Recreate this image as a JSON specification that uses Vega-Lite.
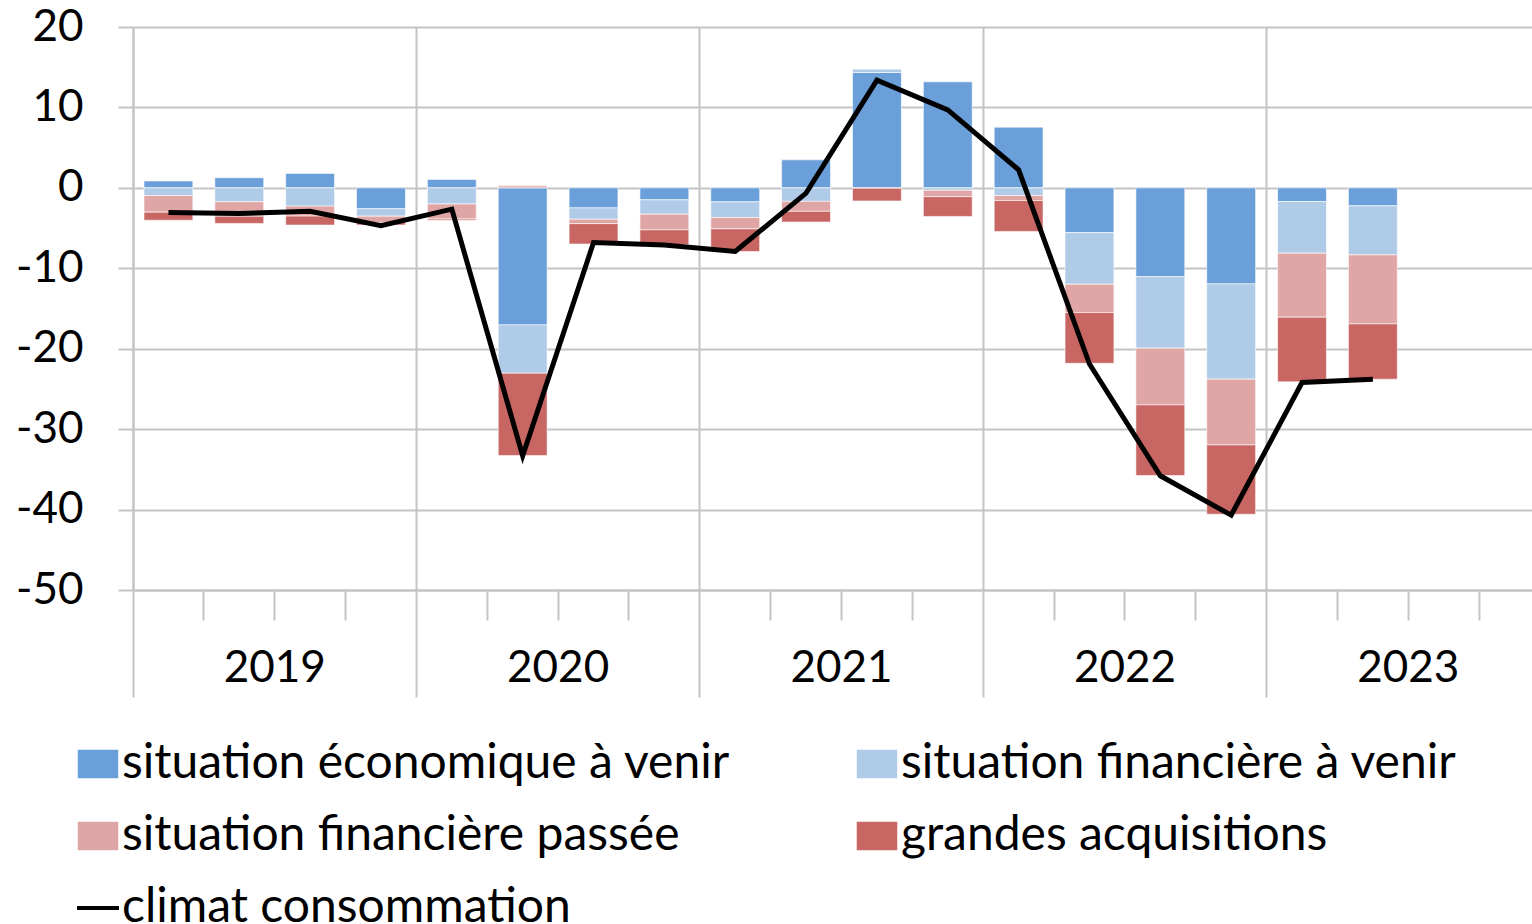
{
  "$schema": "https://vega.github.io/schema/vega-lite/v6.json",
  "autosize": {"type": "none"},
  "padding": {"left": 133, "top": 27, "right": 0, "bottom": 334},
  "width": 1399,
  "height": 563,
  "config": {"font": "Lato", "view": {"stroke": null}},
  "datasets": {
    "bars": [
      {"trimestre": "2019T1", "serie": "situation économique à venir", "valeur": 0.85},
      {"trimestre": "2019T1", "serie": "situation financière à venir", "valeur": -0.95},
      {"trimestre": "2019T1", "serie": "situation financière passée", "valeur": -2.07},
      {"trimestre": "2019T1", "serie": "grandes acquisitions", "valeur": -1.0},
      {"trimestre": "2019T2", "serie": "situation économique à venir", "valeur": 1.26},
      {"trimestre": "2019T2", "serie": "situation financière à venir", "valeur": -1.72},
      {"trimestre": "2019T2", "serie": "situation financière passée", "valeur": -1.8},
      {"trimestre": "2019T2", "serie": "grandes acquisitions", "valeur": -0.9},
      {"trimestre": "2019T3", "serie": "situation économique à venir", "valeur": 1.8},
      {"trimestre": "2019T3", "serie": "situation financière à venir", "valeur": -2.27},
      {"trimestre": "2019T3", "serie": "situation financière passée", "valeur": -1.24},
      {"trimestre": "2019T3", "serie": "grandes acquisitions", "valeur": -1.12},
      {"trimestre": "2019T4", "serie": "situation économique à venir", "valeur": -2.6},
      {"trimestre": "2019T4", "serie": "situation financière à venir", "valeur": -0.92},
      {"trimestre": "2019T4", "serie": "situation financière passée", "valeur": -0.8},
      {"trimestre": "2019T4", "serie": "grandes acquisitions", "valeur": -0.3},
      {"trimestre": "2020T1", "serie": "situation économique à venir", "valeur": 1.05},
      {"trimestre": "2020T1", "serie": "situation financière à venir", "valeur": -2.0},
      {"trimestre": "2020T1", "serie": "situation financière passée", "valeur": -1.87},
      {"trimestre": "2020T1", "serie": "grandes acquisitions", "valeur": -0.15},
      {"trimestre": "2020T2", "serie": "situation économique à venir", "valeur": -17.04},
      {"trimestre": "2020T2", "serie": "situation financière à venir", "valeur": -6.0},
      {"trimestre": "2020T2", "serie": "situation financière passée", "valeur": 0.25},
      {"trimestre": "2020T2", "serie": "grandes acquisitions", "valeur": -10.25},
      {"trimestre": "2020T3", "serie": "situation économique à venir", "valeur": -2.49},
      {"trimestre": "2020T3", "serie": "situation financière à venir", "valeur": -1.41},
      {"trimestre": "2020T3", "serie": "situation financière passée", "valeur": -0.55},
      {"trimestre": "2020T3", "serie": "grandes acquisitions", "valeur": -2.53},
      {"trimestre": "2020T4", "serie": "situation économique à venir", "valeur": -1.49},
      {"trimestre": "2020T4", "serie": "situation financière à venir", "valeur": -1.78},
      {"trimestre": "2020T4", "serie": "situation financière passée", "valeur": -1.95},
      {"trimestre": "2020T4", "serie": "grandes acquisitions", "valeur": -1.83},
      {"trimestre": "2021T1", "serie": "situation économique à venir", "valeur": -1.74},
      {"trimestre": "2021T1", "serie": "situation financière à venir", "valeur": -1.95},
      {"trimestre": "2021T1", "serie": "situation financière passée", "valeur": -1.41},
      {"trimestre": "2021T1", "serie": "grandes acquisitions", "valeur": -2.82},
      {"trimestre": "2021T2", "serie": "situation économique à venir", "valeur": 3.48},
      {"trimestre": "2021T2", "serie": "situation financière à venir", "valeur": -1.68},
      {"trimestre": "2021T2", "serie": "situation financière passée", "valeur": -1.24},
      {"trimestre": "2021T2", "serie": "grandes acquisitions", "valeur": -1.33},
      {"trimestre": "2021T3", "serie": "situation économique à venir", "valeur": 14.34},
      {"trimestre": "2021T3", "serie": "situation financière à venir", "valeur": 0.42},
      {"trimestre": "2021T3", "serie": "situation financière passée", "valeur": -0.05},
      {"trimestre": "2021T3", "serie": "grandes acquisitions", "valeur": -1.58},
      {"trimestre": "2021T4", "serie": "situation économique à venir", "valeur": 13.18},
      {"trimestre": "2021T4", "serie": "situation financière à venir", "valeur": -0.3},
      {"trimestre": "2021T4", "serie": "situation financière passée", "valeur": -0.8},
      {"trimestre": "2021T4", "serie": "grandes acquisitions", "valeur": -2.45},
      {"trimestre": "2022T1", "serie": "situation économique à venir", "valeur": 7.55},
      {"trimestre": "2022T1", "serie": "situation financière à venir", "valeur": -0.95},
      {"trimestre": "2022T1", "serie": "situation financière passée", "valeur": -0.62},
      {"trimestre": "2022T1", "serie": "grandes acquisitions", "valeur": -3.85},
      {"trimestre": "2022T2", "serie": "situation économique à venir", "valeur": -5.56},
      {"trimestre": "2022T2", "serie": "situation financière à venir", "valeur": -6.42},
      {"trimestre": "2022T2", "serie": "situation financière passée", "valeur": -3.53},
      {"trimestre": "2022T2", "serie": "grandes acquisitions", "valeur": -6.3},
      {"trimestre": "2022T3", "serie": "situation économique à venir", "valeur": -11.03},
      {"trimestre": "2022T3", "serie": "situation financière à venir", "valeur": -8.9},
      {"trimestre": "2022T3", "serie": "situation financière passée", "valeur": -7.05},
      {"trimestre": "2022T3", "serie": "grandes acquisitions", "valeur": -8.79},
      {"trimestre": "2022T4", "serie": "situation économique à venir", "valeur": -11.94},
      {"trimestre": "2022T4", "serie": "situation financière à venir", "valeur": -11.85},
      {"trimestre": "2022T4", "serie": "situation financière passée", "valeur": -8.17},
      {"trimestre": "2022T4", "serie": "grandes acquisitions", "valeur": -8.62},
      {"trimestre": "2023T1", "serie": "situation économique à venir", "valeur": -1.7},
      {"trimestre": "2023T1", "serie": "situation financière à venir", "valeur": -6.42},
      {"trimestre": "2023T1", "serie": "situation financière passée", "valeur": -7.96},
      {"trimestre": "2023T1", "serie": "grandes acquisitions", "valeur": -8.04},
      {"trimestre": "2023T2", "serie": "situation économique à venir", "valeur": -2.24},
      {"trimestre": "2023T2", "serie": "situation financière à venir", "valeur": -6.09},
      {"trimestre": "2023T2", "serie": "situation financière passée", "valeur": -8.58},
      {"trimestre": "2023T2", "serie": "grandes acquisitions", "valeur": -6.88}
    ],
    "climat": [
      {"trimestre": "2019T1", "serie": "climat consommation", "valeur": -3.05},
      {"trimestre": "2019T2", "serie": "climat consommation", "valeur": -3.2},
      {"trimestre": "2019T3", "serie": "climat consommation", "valeur": -2.9},
      {"trimestre": "2019T4", "serie": "climat consommation", "valeur": -4.7},
      {"trimestre": "2020T1", "serie": "climat consommation", "valeur": -2.65},
      {"trimestre": "2020T2", "serie": "climat consommation", "valeur": -33.3},
      {"trimestre": "2020T3", "serie": "climat consommation", "valeur": -6.8},
      {"trimestre": "2020T4", "serie": "climat consommation", "valeur": -7.1},
      {"trimestre": "2021T1", "serie": "climat consommation", "valeur": -7.9},
      {"trimestre": "2021T2", "serie": "climat consommation", "valeur": -0.66},
      {"trimestre": "2021T3", "serie": "climat consommation", "valeur": 13.4},
      {"trimestre": "2021T4", "serie": "climat consommation", "valeur": 9.7},
      {"trimestre": "2022T1", "serie": "climat consommation", "valeur": 2.24},
      {"trimestre": "2022T2", "serie": "climat consommation", "valeur": -21.9},
      {"trimestre": "2022T3", "serie": "climat consommation", "valeur": -35.8},
      {"trimestre": "2022T4", "serie": "climat consommation", "valeur": -40.7},
      {"trimestre": "2023T1", "serie": "climat consommation", "valeur": -24.2},
      {"trimestre": "2023T2", "serie": "climat consommation", "valeur": -23.8}
    ]
  },
  "layer": [
    {
      "data": {"name": "bars"},
      "mark": {"type": "bar", "width": {"band": 0.69}, "stroke": "white", "strokeWidth": 1, "strokeOpacity": 0.6},
      "encoding": {
        "x": {
          "field": "trimestre", "type": "ordinal",
          "scale": {
            "domain": ["2019T1","2019T2","2019T3","2019T4","2020T1","2020T2","2020T3","2020T4","2021T1","2021T2","2021T3","2021T4","2022T1","2022T2","2022T3","2022T4","2023T1","2023T2","2023T3","2023T4"],
            "range": [0, 1417], "paddingInner": 0, "paddingOuter": 0
          },
          "axis": {
            "title": null, "bandPosition": 0, "labelAngle": 0,
            "labelExpr": "substring(datum.value, 5) == '3' ? substring(datum.value, 0, 4) : ''",
            "labelFontSize": 44, "labelColor": "black", "labelPadding": 26, "labelOffset": -35.4,
            "labelOverlap": false, "labelBound": false, "labelFlush": false,
            "tickSize": {"condition": {"test": "substring(datum.value, 5) == '1'", "value": 107}, "value": 30},
            "tickColor": "#c4c4c4", "tickWidth": 2,
            "grid": true, "gridColor": "#c4c4c4", "gridWidth": 2,
            "gridOpacity": {"condition": {"test": "substring(datum.value, 5) == '1'", "value": 1}, "value": 0},
            "domainColor": "#c4c4c4", "domainWidth": 2
          }
        },
        "y": {
          "field": "valeur", "type": "quantitative", "stack": "zero",
          "scale": {"domain": [-50, 20], "nice": false},
          "axis": {
            "title": null, "values": [-50, -40, -30, -20, -10, 0, 10, 20],
            "labelExpr": "'' + datum.value",
            "labelFontSize": 44, "labelColor": "black", "labelPadding": 35,
            "tickSize": 15, "tickColor": "#c4c4c4", "tickWidth": 2,
            "gridColor": "#c4c4c4", "gridWidth": 2,
            "domainColor": "#c4c4c4", "domainWidth": 2
          }
        },
        "color": {
          "field": "serie", "type": "nominal",
          "scale": {
            "domain": ["situation économique à venir", "situation financière à venir", "situation financière passée", "grandes acquisitions"],
            "range": ["#6a9fda", "#afcbe8", "#e0a6a6", "#c86663"]
          },
          "legend": {
            "title": null, "orient": "none", "legendX": -59, "legendY": 713,
            "direction": "horizontal", "columns": 2, "columnPadding": 122, "rowPadding": 24,
            "labelFontSize": 48, "labelLimit": 1000, "labelOffset": 0, "labelColor": "black",
            "symbolType": "M-1,-0.7H1V0.7H-1Z", "symbolSize": 1640, "symbolStrokeWidth": 0, "symbolOpacity": 1,
            "padding": 0
          }
        },
        "order": {"field": "serie", "sort": "descending"}
      }
    },
    {
      "data": {"name": "climat"},
      "mark": {"type": "line", "strokeWidth": 5},
      "encoding": {
        "x": {"field": "trimestre", "type": "ordinal"},
        "y": {"field": "valeur", "type": "quantitative"},
        "stroke": {
          "field": "serie", "type": "nominal",
          "scale": {"domain": ["climat consommation"], "range": ["#000000"]},
          "legend": {
            "title": null, "orient": "none", "legendX": -59, "legendY": 857,
            "labelFontSize": 48, "labelLimit": 1000, "labelOffset": 0, "labelColor": "black",
            "symbolType": "stroke", "symbolSize": 1760, "symbolStrokeWidth": 4, "padding": 0
          }
        }
      }
    }
  ]
}
